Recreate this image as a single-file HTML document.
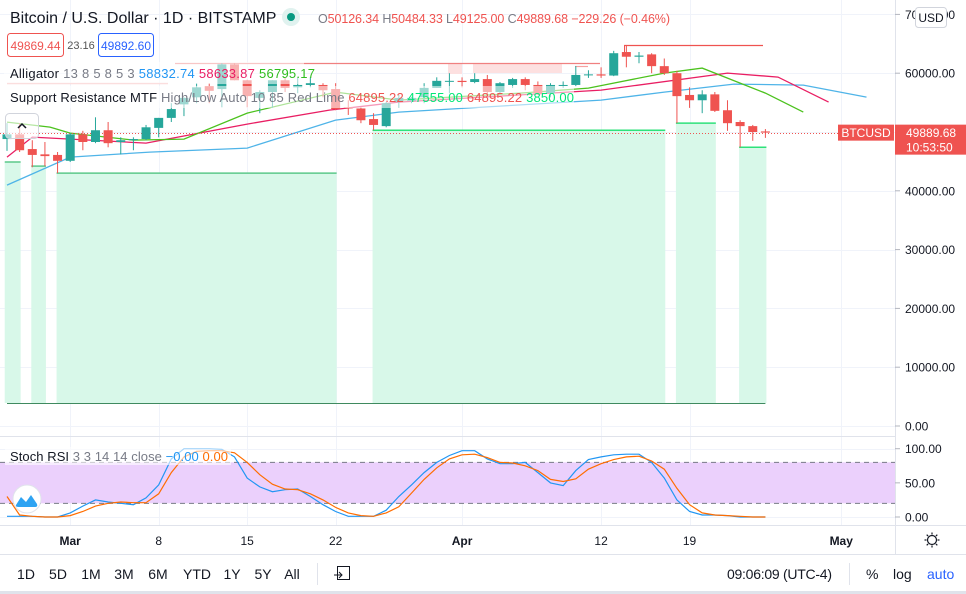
<!DOCTYPE html>
<html><head><meta charset="utf-8">
<style>
html,body{margin:0;padding:0;background:#fff;}
svg{display:block;font-family:"Liberation Sans","DejaVu Sans",sans-serif;}
</style></head>
<body>
<svg id="chart" width="966" height="594" viewBox="0 0 966 594" xmlns="http://www.w3.org/2000/svg">
<g id="grid"></g>
<g id="sr"></g>
<g id="alli"></g>
<g id="candles"></g>
<g id="stoch"></g>
<g id="axes"></g>
<g id="legend">
  <rect x="4" y="62" width="300" height="22" fill="#fff" opacity="0.55"/>
  <rect x="4" y="86" width="570" height="22" fill="#fff" opacity="0.55"/>
  <text x="10" y="23" font-size="16" fill="#131722">Bitcoin / U.S. Dollar · 1D · BITSTAMP</text>
  <circle cx="291" cy="17" r="9" fill="#e0f2ef"/><circle cx="291" cy="17" r="4" fill="#089981"/>
  <text x="318" y="23" font-size="12.5" fill="#787b86" textLength="352">O<tspan fill="#ef5350">50126.34</tspan> H<tspan fill="#ef5350">50484.33</tspan> L<tspan fill="#ef5350">49125.00</tspan> C<tspan fill="#ef5350">49889.68</tspan> <tspan fill="#ef5350">−229.26 (−0.46%)</tspan></text>
  <rect x="7.5" y="33.5" width="56" height="23" rx="3" fill="#fff" stroke="#ef5350"/>
  <text x="35.5" y="50" font-size="12" fill="#ef5350" text-anchor="middle">49869.44</text>
  <text x="81" y="49" font-size="11" fill="#555" text-anchor="middle">23.16</text>
  <rect x="98.5" y="33.5" width="55" height="23" rx="3" fill="#fff" stroke="#2962ff"/>
  <text x="126" y="50" font-size="12" fill="#2962ff" text-anchor="middle">49892.60</text>
  <text x="10" y="78" font-size="13" fill="#131722" textLength="305">Alligator <tspan fill="#787b86">13 8 5 8 5 3</tspan> <tspan fill="#2196f3">58832.74</tspan> <tspan fill="#e91e63">58633.87</tspan> <tspan fill="#2fbd1e">56795.17</tspan></text>
  <text x="10" y="102" font-size="13" fill="#131722" textLength="564">Support Resistance MTF <tspan fill="#787b86">High/Low Auto 10 85 Red Lime</tspan> <tspan fill="#ef5350">64895.22</tspan> <tspan fill="#00e676">47555.00</tspan> <tspan fill="#ef5350">64895.22</tspan> <tspan fill="#00e676">3850.00</tspan></text>
  <rect x="5.5" y="113.5" width="33" height="25" rx="4" fill="#fff" fill-opacity="0.6" stroke="#d1d4dc"/>
  <path d="M18 128 L22 124 L26 128" fill="none" stroke="#131722" stroke-width="1.5"/>
</g>
</svg>
<script>
// ===== data =====
const opens  = [48800,49600,47100,46200,46100,45100,49600,48300,50300,48300,48600,48800,50700,52400,54700,55900,57800,57300,61500,58800,55800,56800,58800,57600,58000,58000,57300,54200,54000,52200,51000,55100,55300,55900,57500,58600,58700,58500,59000,56800,58000,59000,58000,56600,57900,58000,59700,59800,59600,63600,62800,63200,61200,60000,56300,55400,56400,53700,51700,51000,50100];
const highs  = [51500,51500,48600,48300,46600,49800,50200,52500,51700,49100,49100,51200,52400,54900,55900,58300,58300,61700,61700,58900,57100,58800,59200,59300,59300,58300,58300,55400,54200,53200,55100,56300,56000,58300,59300,60000,59300,60000,59700,58500,59200,59300,58600,58300,58600,61200,60500,61000,63800,64800,63600,63400,62500,60400,57600,57100,56800,55400,52000,51200,50500];
const lows   = [46800,46600,44000,44200,43000,44900,46900,48100,47400,46200,46900,48600,49100,51700,52700,54900,54900,54200,58800,54200,53200,54100,56800,56600,57600,55900,53700,52900,51500,50300,50800,54100,54900,54900,57500,56600,57600,58300,55900,56600,57500,57100,56300,55900,57500,57800,59200,59200,59500,61000,61700,60000,59700,51500,54100,53200,53400,50200,47400,48500,49000];
const closes = [49600,46900,46100,45900,45100,49600,48300,50300,48100,48600,48800,50800,52400,53900,55800,57600,57000,61500,58800,56100,56800,58800,57500,58000,58300,57100,53900,54100,52000,51200,54900,55800,55800,57500,58700,58700,58500,59000,56800,58300,59000,58000,56600,58000,58000,59700,59800,59600,63400,62800,63000,61200,60000,56100,55400,56400,53600,51500,51000,50000,49900];
// alligator [index, value]
const jawIdx   = [0,5,11.3,19,26,31,39,47,52,57.5,63,68];
const jawVal   = [40970,45730,46580,47260,52020,53380,54400,55420,56780,58140,57970,55930];
const teethIdx = [0,2,11,19,25.5,31,47,57,61,65];
const teethVal = [45730,49130,48110,51340,53720,55080,57120,60010,59330,55080];
const lipsIdx  = [0,3.4,5,10,14,19,26,31,40.6,46,52,55,60,63];
const lipsVal  = [51680,50830,49810,48620,48790,53210,56780,55420,56610,57460,60010,60860,56610,53380];
// support zones
const supStart = [-0.1,2,4,29,53,58];
const supEnd   = [1,3,26,52,56,60];
const supLevel = [44900,44200,43000,50300,51500,47400];
// stoch rsi
const stochK = [1,1,1,0,0,6,16,25,22,20,18,28,47,85,100,100,100,99,88,57,44,37,40,41,30,18,8,1,1,1,10,30,47,65,80,90,97,97,85,78,78,80,65,50,46,68,84,88,91,92,92,80,57,25,8,3,3,2,0,0,0];
const stochD = [30,3,1,0,0,2,8,16,20,22,21,21,34,65,88,96,97,97,94,80,62,48,41,40,34,25,14,6,2,1,6,15,35,55,72,85,91,92,87,80,79,75,68,55,52,56,70,78,84,88,89,82,70,42,18,6,3,2,1,0,0];
const priceTicks = [0,10000,20000,30000,40000,50000,60000,70000];
const stochTicks = [0,50,100];
const dateIdx = [5,12,19,26,36,47,54,66];
const dateLabels = ["Mar","8","15","22","Apr","12","19","May"];
const lastPrice = 49889.68;

// ===== scales =====
const NS="http://www.w3.org/2000/svg";
const xOf = i => 7 + 12.64*i;
const yP = p => 426 - p*0.00588;
const yS = v => 517 - v*0.683;
function mk(tag, attrs, parent, txt){
  const e=document.createElementNS(NS,tag);
  for(const k in attrs) e.setAttribute(k,attrs[k]);
  if(txt!==undefined) e.textContent=txt;
  parent.appendChild(e); return e;
}
const G=id=>document.getElementById(id);

// grid
const grid=G('grid');
dateIdx.forEach(d=>{ const x=Math.round(xOf(d))+0.5;
  const l=mk('line',{x1:x,x2:x,y1:0,y2:525,stroke:'#f0f3fa'},grid);
  
  
});
priceTicks.forEach(p=>{ const y=Math.round(yP(p))+0.5;
  const l=mk('line',{x1:0,x2:895,y1:y,y2:y,stroke:'#f0f3fa'},grid);
  
  
});
stochTicks.forEach(v=>{ const y=Math.round(yS(v))+0.5;
  mk('line',{x1:0,x2:895,y1:y,y2:y,stroke:'#f0f3fa'},grid);
});

// support / resistance
const sr=G('sr');
for(let k=0;k<supStart.length;k++){
  const x1=xOf(supStart[k])-1, x2=xOf(supEnd[k])+1, y=yP(supLevel[k]);
  const r=mk('rect',{x:x1,y:y,width:x2-x1,height:403-y,fill:'#d8f8e9'},sr);
  
  
  mk('line',{x1:x1,x2:x2,y1:y,y2:y,stroke:(k>=3?'#2ee27a':'#5cc98a'),'stroke-width':1.5},sr);
}
mk('line',{x1:xOf(0),x2:xOf(60),y1:403.5,y2:403.5,stroke:'#3f8a5f'},sr);
// resistance
mk('rect',{x:448,y:63,width:14,height:11,fill:'#fde0e0'},sr);
mk('rect',{x:473,y:63,width:89,height:10,fill:'#fde0e0'},sr);
mk('line',{x1:175,x2:600,y1:63.5,y2:63.5,stroke:'#f08080','stroke-width':1.2},sr);
mk('line',{x1:575,x2:588,y1:66.5,y2:66.5,stroke:'#f6a0a0','stroke-width':1.2},sr);
mk('line',{x1:7,x2:168,y1:83.5,y2:83.5,stroke:'#f7b5b5','stroke-width':1.2},sr);
mk('line',{x1:624,x2:763,y1:45.5,y2:45.5,stroke:'#ef5350','stroke-width':1.2},sr);
mk('line',{x1:624.5,x2:624.5,y1:45,y2:55,stroke:'#ef5350','stroke-width':1},sr);

// alligator
const alli=G('alli');
function drawLine(idx,vals,color,name){
  const pts=idx.map((d,k)=>xOf(d).toFixed(1)+','+yP(vals[k]).toFixed(1)).join(' ');
  const p=mk('polyline',{points:pts,fill:'none',stroke:color,'stroke-width':1.3},alli);
  
  
}
drawLine(jawIdx,jawVal,'#4fb4e8','alligator-jaw');
drawLine(teethIdx,teethVal,'#e91e63','alligator-teeth');
drawLine(lipsIdx,lipsVal,'#4cc21e','alligator-lips');

// last price line
mk('line',{x1:0,x2:840,y1:Math.round(yP(lastPrice))+0.5,y2:Math.round(yP(lastPrice))+0.5,stroke:'#ef5350','stroke-dasharray':'1 2'},alli);

// candles
const cg=G('candles');
for(let i=0;i<opens.length;i++){
  const up=closes[i]>=opens[i], col=up?'#26a69a':'#ef5350', x=xOf(i);
  const g=mk('g',{},cg);
  
  
  mk('line',{x1:x,x2:x,y1:yP(highs[i]),y2:yP(lows[i]),stroke:col,'stroke-width':1},g);
  const t=yP(Math.max(opens[i],closes[i])), b=yP(Math.min(opens[i],closes[i]));
  mk('rect',{x:x-4.5,y:t,width:9,height:Math.max(1,b-t),fill:col},g);
}

// stoch pane
const st=G('stoch');
mk('line',{x1:0,x2:966,y1:436.5,y2:436.5,stroke:'#e0e3eb'},st);
const band=mk('rect',{x:0,y:yS(80),width:895,height:yS(20)-yS(80),fill:'#ebd0fc'},st);


[80,20].forEach(v=>mk('line',{x1:0,x2:895,y1:yS(v),y2:yS(v),stroke:'#787b86','stroke-dasharray':'5 4'},st));
function sline(vals,color,name){
  const pts=vals.map((v,i)=>xOf(i).toFixed(1)+','+yS(v).toFixed(1)).join(' ');
  const p=mk('polyline',{points:pts,fill:'none',stroke:color,'stroke-width':1.2},st);
  
  
}
sline(stochK,'#2196f3','stoch-k-line');
sline(stochD,'#ff6d00','stoch-d-line');
mk('rect',{x:5,y:447,width:226,height:18,fill:'#fff',opacity:0.6},st);
const sl=mk('text',{x:10,y:461,'font-size':13,fill:'#131722',textLength:218},st);


sl.appendChild(document.createTextNode('Stoch RSI '));
mk('tspan',{fill:'#787b86'},sl,'3 3 14 14 close ');
mk('tspan',{fill:'#2196f3'},sl,'−0.00 ');
mk('tspan',{fill:'#ff6d00'},sl,'0.00');
const logo=mk('circle',{cx:27,cy:499,r:14,fill:'#fff',stroke:'#e0e3eb'},st);


mk('path',{d:'M16 505 L21 497 L26 502 L31 495 L37 504 Q38 507 35 507 L19 507 Q15 507 16 505 Z',fill:'#2ea3f2'},st);

// axes
const ax=G('axes');
mk('rect',{x:895,y:0,width:71,height:525,fill:'#fff'},ax);
mk('line',{x1:895.5,x2:895.5,y1:0,y2:555,stroke:'#e0e3eb'},ax);
priceTicks.forEach(p=>{ const y=yP(p);
  mk('line',{x1:895,x2:900,y1:y,y2:y,stroke:'#b2b5be'},ax);
  const t=mk('text',{x:905,y:y+4.5,'font-size':12,fill:'#131722'},ax,p.toFixed(2));
  
  
});
stochTicks.forEach(v=>{ const y=yS(v);
  mk('line',{x1:895,x2:900,y1:y,y2:y,stroke:'#b2b5be'},ax);
  const t=mk('text',{x:905,y:y+4.5,'font-size':12,fill:'#131722'},ax,v.toFixed(2));
  
  
});
// USD button
const ub=mk('rect',{x:915.5,y:7.5,width:31,height:20,rx:3,fill:'#fff',stroke:'#d1d4dc'},ax);


mk('text',{x:931,y:22,'font-size':12,fill:'#131722','text-anchor':'middle'},ax,'USD');
// last price labels
const ly=yP(lastPrice);
mk('rect',{x:838,y:ly-8,width:56,height:16,fill:'#ef5350'},ax);
mk('text',{x:866,y:ly+4.5,'font-size':12,fill:'#fff','text-anchor':'middle'},ax,'BTCUSD');
const pl=mk('rect',{x:895,y:ly-8,width:71,height:30,fill:'#ef5350'},ax);


mk('text',{x:906,y:ly+4.5,'font-size':12,fill:'#fff'},ax,'49889.68');
mk('text',{x:906,y:ly+19,'font-size':12,fill:'#fff'},ax,'10:53:50');

// time axis
mk('line',{x1:0,x2:966,y1:525.5,y2:525.5,stroke:'#e0e3eb'},ax);
dateIdx.forEach((d,k)=>{
  const bold=isNaN(+dateLabels[k]);
  const t=mk('text',{x:xOf(d),y:545,'font-size':12,fill:'#131722','text-anchor':'middle','font-weight':bold?'bold':'normal'},ax,dateLabels[k]);
  
  
});
const gear=mk('g',{},ax);


mk('circle',{cx:932,cy:540,r:4.5,fill:'none',stroke:'#131722','stroke-width':1.2},gear);
for(let a=0;a<8;a++){const r=a*Math.PI/4;
  mk('line',{x1:932+5.5*Math.cos(r),y1:540+5.5*Math.sin(r),x2:932+7.5*Math.cos(r),y2:540+7.5*Math.sin(r),stroke:'#131722','stroke-width':1.2},gear);}

// bottom toolbar
mk('line',{x1:0,x2:966,y1:554.5,y2:554.5,stroke:'#e0e3eb'},ax);
mk('rect',{x:0,y:591,width:966,height:3,fill:'#e0e3eb'},ax);
const ranges=['1D','5D','1M','3M','6M','YTD','1Y','5Y','All'];
const rx=[26,58,91,124,158,197,232,263,292];
ranges.forEach((r,k)=>{
  const t=mk('text',{x:rx[k],y:579,'font-size':14,fill:'#131722','text-anchor':'middle'},ax,r);
  
  
});
mk('line',{x1:317.5,x2:317.5,y1:563,y2:585,stroke:'#e0e3eb'},ax);
const cal=mk('g',{},ax);


mk('rect',{x:337.5,y:566.5,width:12,height:13,fill:'none',stroke:'#131722'},cal);
mk('path',{d:'M334 575 L342 575 M339 572 L342 575 L339 578',fill:'none',stroke:'#131722'},cal);
const tm=mk('text',{x:727,y:579,'font-size':14,fill:'#131722',textLength:105},ax,'09:06:09 (UTC-4)');


mk('line',{x1:849.5,x2:849.5,y1:563,y2:585,stroke:'#e0e3eb'},ax);
const pc=mk('text',{x:866,y:579,'font-size':14,fill:'#131722'},ax,'%');


const lg=mk('text',{x:893,y:579,'font-size':14,fill:'#131722'},ax,'log');


const au=mk('text',{x:927,y:579,'font-size':14,fill:'#2962ff'},ax,'auto');


</script>
</body></html>
